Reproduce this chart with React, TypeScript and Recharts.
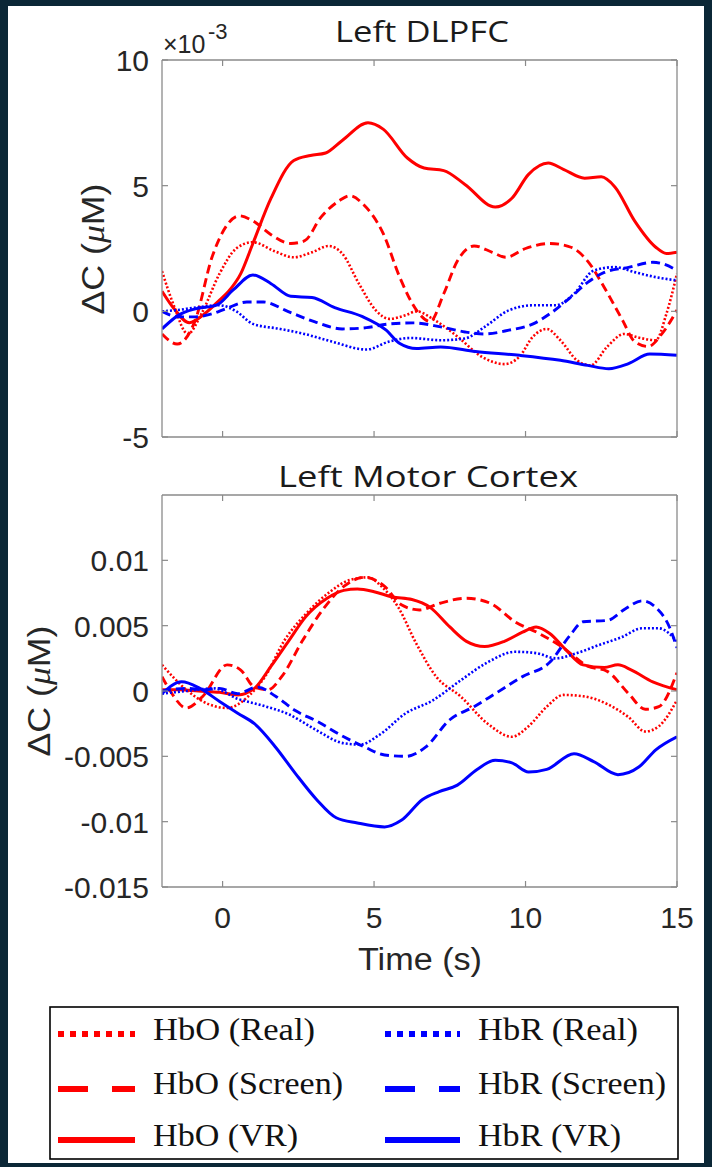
import React from 'react';
import { LineChart, Line, XAxis, YAxis } from 'recharts';

type Pt = [number, number];

// ---------- axes ----------
const X_DOMAIN: [number, number] = [-2, 15];
const X_TICKS = [0, 5, 10, 15];
const DLPFC_Y_DOMAIN: [number, number] = [-5, 10];
const DLPFC_Y_TICKS = [-5, 0, 5, 10];
const MOTOR_Y_DOMAIN: [number, number] = [-0.015, 0.015];
const MOTOR_Y_TICKS = [-0.015, -0.01, -0.005, 0, 0.005, 0.01];

const TITLE_DLPFC = 'Left DLPFC';
const TITLE_MOTOR = 'Left Motor Cortex';
const X_LABEL = 'Time (s)';
const SERIES_NAMES = ['HbO (Real)', 'HbO (Screen)', 'HbO (VR)', 'HbR (Real)', 'HbR (Screen)', 'HbR (VR)'];

// ---------- Left DLPFC (x10^-3 µM) ----------
const dlpfcHbOReal: Pt[] = [[-2,1.6],[-1.6,0.2],[-1.15,-0.9],[-0.7,-0.1],[-0.1,1.5],[0.45,2.5],[1.0,2.75],[1.7,2.4],[2.35,2.15],[2.95,2.35],[3.5,2.6],[3.95,2.3],[4.5,1.1],[5.05,0.05],[5.5,-0.3],[6.05,-0.15],[6.4,0.0],[7.0,-0.35],[7.75,-1.0],[8.55,-1.8],[9.3,-2.1],[9.8,-1.8],[10.25,-1.0],[10.7,-0.7],[11.15,-1.15],[11.7,-1.95],[12.15,-2.15],[12.7,-1.4],[13.25,-0.9],[13.75,-1.05],[14.3,-1.15],[14.65,-0.1],[15,1.5]];
const dlpfcHbOScreen: Pt[] = [[-2,-0.9],[-1.5,-1.3],[-0.9,-0.35],[-0.35,2.15],[0.1,3.35],[0.55,3.8],[1.0,3.6],[1.6,3.05],[2.25,2.7],[2.7,2.8],[3.25,3.75],[3.85,4.4],[4.2,4.6],[4.65,4.25],[5.3,3.1],[5.85,1.35],[6.4,0.05],[6.85,-0.4],[7.3,0.7],[7.75,2.0],[8.3,2.6],[8.9,2.35],[9.35,2.15],[10.0,2.5],[10.8,2.7],[11.5,2.55],[12.05,2.0],[12.6,0.95],[13.2,-0.35],[13.6,-1.2],[14.05,-1.4],[14.5,-0.9],[15,0.05]];
const dlpfcHbOVR: Pt[] = [[-2,0.8],[-1.6,0.1],[-1.1,-0.45],[-0.6,-0.1],[-0.1,0.45],[0.2,0.8],[0.6,1.5],[1.0,2.7],[1.6,4.5],[2.35,6.0],[2.9,6.2],[3.4,6.3],[3.95,6.8],[4.8,7.5],[5.3,7.25],[6.1,6.1],[6.65,5.7],[7.3,5.6],[8.0,5.05],[9.0,4.15],[9.55,4.5],[10.1,5.45],[10.75,5.9],[11.25,5.65],[11.95,5.3],[12.5,5.35],[12.95,4.95],[13.6,3.6],[14.3,2.55],[14.65,2.3],[15,2.35]];
const dlpfcHbRReal: Pt[] = [[-2,0.0],[-1.5,0.05],[-0.9,0.15],[-0.1,0.24],[0.45,0.0],[1.0,-0.5],[1.9,-0.7],[2.7,-0.9],[3.6,-1.2],[4.75,-1.52],[5.5,-1.2],[6.2,-1.06],[7.2,-1.15],[8.0,-1.08],[8.65,-0.62],[9.45,0.04],[10.25,0.24],[11.0,0.24],[11.6,0.7],[12.25,1.62],[12.95,1.76],[13.6,1.56],[14.3,1.36],[15,1.23]];
const dlpfcHbRScreen: Pt[] = [[-2,0.0],[-1.45,-0.22],[-0.9,-0.22],[-0.35,-0.1],[0.1,0.1],[0.8,0.37],[1.35,0.37],[2.15,0.0],[3.05,-0.42],[3.95,-0.7],[4.75,-0.65],[5.5,-0.5],[6.3,-0.46],[7.2,-0.62],[8.0,-0.82],[8.65,-0.9],[9.45,-0.75],[10.25,-0.5],[10.8,-0.1],[11.5,0.57],[12.05,1.15],[12.6,1.55],[13.4,1.75],[14.2,1.95],[14.5,1.9],[15,1.63]];
const dlpfcHbRVR: Pt[] = [[-2,-0.7],[-1.45,-0.15],[-0.9,0.1],[-0.2,0.25],[0.35,0.85],[1.0,1.45],[1.6,1.1],[2.25,0.6],[2.95,0.55],[3.7,0.15],[4.6,-0.2],[5.4,-0.75],[5.85,-1.28],[6.4,-1.48],[7.2,-1.42],[8.35,-1.6],[9.8,-1.75],[11.15,-1.95],[12.05,-2.15],[12.75,-2.28],[13.4,-2.08],[14.1,-1.7],[15,-1.75]];

// ---------- Left Motor Cortex (µM) ----------
const motorHbOReal: Pt[] = [[-2,0.002],[-1.2,0.0001],[-0.65,-0.0008],[0.15,-0.0013],[0.85,-0.0004],[1.4,0.0011],[2.05,0.0039],[2.75,0.0059],[3.55,0.0076],[4.2,0.0085],[4.8,0.0087],[5.25,0.008],[5.8,0.0064],[6.4,0.0036],[7.05,0.0011],[7.85,-0.0004],[8.75,-0.0025],[9.55,-0.0035],[10.1,-0.0027],[10.7,-0.0012],[11.25,-0.0003],[11.9,-0.0004],[12.7,-0.001],[13.4,-0.002],[13.95,-0.0031],[14.4,-0.0027],[15,-0.0007]];
const motorHbOScreen: Pt[] = [[-2,0.0011],[-1.7,-0.0001],[-1.2,-0.0013],[-0.65,-0.0004],[0.15,0.002],[0.6,0.0016],[1.05,0.0003],[1.5,0.0001],[1.95,0.0011],[2.65,0.0039],[3.3,0.0062],[4.0,0.008],[4.7,0.0087],[5.35,0.008],[5.9,0.0066],[6.5,0.0062],[7.15,0.0067],[8.05,0.0071],[8.85,0.0067],[9.65,0.0053],[10.45,0.0044],[11.25,0.0033],[12.05,0.0019],[12.7,0.0015],[13.4,-0.0002],[13.95,-0.0014],[14.4,-0.0012],[15,0.0014]];
const motorHbOVR: Pt[] = [[-2,0.0001],[-1.4,0.0001],[-0.8,0.0],[-0.1,-0.0001],[0.5,-0.0003],[1.05,0.0002],[1.6,0.0019],[2.2,0.0039],[2.75,0.0057],[3.45,0.0071],[4.0,0.0077],[4.45,0.0078],[5.0,0.0076],[5.6,0.0072],[6.25,0.007],[6.85,0.0064],[7.5,0.0049],[8.05,0.0038],[8.65,0.0034],[9.3,0.0038],[9.9,0.0045],[10.35,0.0049],[10.8,0.0044],[11.35,0.0031],[11.9,0.002],[12.6,0.0018],[13.05,0.002],[13.5,0.0016],[14.2,0.0007],[15,0.0001]];
const motorHbRReal: Pt[] = [[-2,-0.0002],[-1.2,0.0],[-0.3,0.0002],[0.5,-0.0006],[1.3,-0.0011],[2.2,-0.0018],[3.1,-0.003],[4.0,-0.004],[4.55,-0.0041],[5.15,-0.0034],[6.05,-0.0017],[6.95,-0.0007],[7.85,0.0008],[8.75,0.0022],[9.65,0.003],[10.35,0.0029],[11.0,0.0025],[11.7,0.0029],[12.4,0.0035],[13.15,0.0041],[13.85,0.0048],[14.4,0.0048],[15,0.0038]];
const motorHbRScreen: Pt[] = [[-2,0.0],[-1.2,0.0002],[-0.6,0.0001],[-0.1,0.0002],[0.5,-0.0002],[1.15,0.0003],[1.75,-0.0004],[2.4,-0.0015],[3.1,-0.0023],[4.0,-0.0035],[4.7,-0.0043],[5.35,-0.0049],[6.05,-0.005],[6.7,-0.0043],[7.5,-0.0022],[8.3,-0.0012],[9.0,-0.0002],[9.9,0.0011],[10.8,0.0022],[11.45,0.0042],[11.9,0.0053],[12.7,0.0054],[13.3,0.0063],[13.85,0.0069],[14.3,0.0064],[14.75,0.0049],[15,0.0033]];
const motorHbRVR: Pt[] = [[-2,-0.0002],[-1.35,0.0007],[-0.75,0.0002],[-0.1,-0.0008],[0.5,-0.0017],[1.05,-0.0025],[1.75,-0.0043],[2.4,-0.0063],[3.1,-0.0083],[3.75,-0.0097],[4.45,-0.0101],[5.35,-0.0104],[5.9,-0.0099],[6.6,-0.0083],[7.15,-0.0077],[7.75,-0.0072],[8.4,-0.006],[9.0,-0.0053],[9.55,-0.0055],[10.1,-0.0062],[10.7,-0.006],[11.6,-0.0048],[12.25,-0.0054],[13.05,-0.0064],[13.75,-0.0058],[14.3,-0.0045],[15,-0.0035]];

// ---------- styles ----------
const RED = '#ff0000';
const BLUE = '#0000ff';
const BOX = '#8a8a8a';
const TXT = '#262626';
const STYLE_REAL = { dash: '2 2', width: 2.6, legendDash: '6 6', legendWidth: 6 };
const STYLE_SCREEN = { dash: '9 5', width: 2.9, legendDash: '30 24', legendWidth: 6 };
const STYLE_VR = { dash: undefined as string | undefined, width: 3, legendDash: undefined as string | undefined, legendWidth: 6 };
const SERIES_STYLES = [
  { color: RED, ...STYLE_REAL },
  { color: RED, ...STYLE_SCREEN },
  { color: RED, ...STYLE_VR },
  { color: BLUE, ...STYLE_REAL },
  { color: BLUE, ...STYLE_SCREEN },
  { color: BLUE, ...STYLE_VR },
];

const DLPFC_SERIES = [dlpfcHbOReal, dlpfcHbOScreen, dlpfcHbOVR, dlpfcHbRReal, dlpfcHbRScreen, dlpfcHbRVR];
const MOTOR_SERIES = [motorHbOReal, motorHbOScreen, motorHbOVR, motorHbRReal, motorHbRScreen, motorHbRVR];

const W = 712;
const PLOT_LEFT = 162;
const PLOT_RIGHT = 677;
const TICK_FONT = 'Liberation Sans, Arial, sans-serif';
const TICK_SIZE = 30;
const TICK_LEN = 6;

function Panel(props: {
  top: number; height: number; plotTop: number; plotBottom: number;
  yDomain: [number, number]; yTicks: number[]; series: Pt[][]; showXLabels: boolean;
}) {
  const { top, height, plotTop, plotBottom, yDomain, yTicks, series, showXLabels } = props;
  const yAxisW = 40, xAxisH = 20, topAxisH = 10, rightAxisW = 10;
  const margin = {
    top: plotTop - top - topAxisH,
    left: PLOT_LEFT - yAxisW,
    right: W - PLOT_RIGHT - rightAxisW,
    bottom: top + height - plotBottom - xAxisH,
  };
  const axisLine = { stroke: BOX, strokeWidth: 1.3 };
  const bottomTick = (p: any) => (
    <g>
      <line x1={p.x} x2={p.x} y1={p.y} y2={p.y - TICK_LEN} stroke={BOX} strokeWidth={1.2} />
      {showXLabels && (
        <text x={p.x} y={p.y + 41} textAnchor="middle" fontFamily={TICK_FONT} fontSize={TICK_SIZE} fill={TXT}>
          {String(p.payload.value)}
        </text>
      )}
    </g>
  );
  const topTick = (p: any) => (
    <line x1={p.x} x2={p.x} y1={p.y} y2={p.y + TICK_LEN} stroke={BOX} strokeWidth={1.2} />
  );
  const leftTick = (p: any) => (
    <g>
      <line x1={p.x} x2={p.x + TICK_LEN} y1={p.y} y2={p.y} stroke={BOX} strokeWidth={1.2} />
      <text x={p.x - 13} y={p.y + 11} textAnchor="end" fontFamily={TICK_FONT} fontSize={TICK_SIZE} fill={TXT}>
        {String(p.payload.value)}
      </text>
    </g>
  );
  const rightTick = (p: any) => (
    <line x1={p.x} x2={p.x - TICK_LEN} y1={p.y} y2={p.y} stroke={BOX} strokeWidth={1.2} />
  );
  return (
    <div style={{ position: 'absolute', left: 0, top }}>
      <LineChart width={W} height={height} margin={margin}>
        <XAxis xAxisId="b" type="number" dataKey="t" domain={X_DOMAIN} ticks={X_TICKS} interval={0}
          height={xAxisH} allowDataOverflow tickLine={false} tickSize={0} tickMargin={0}
          axisLine={axisLine} tick={bottomTick} />
        <XAxis xAxisId="t" orientation="top" type="number" dataKey="t" domain={X_DOMAIN} ticks={X_TICKS} interval={0}
          height={topAxisH} allowDataOverflow tickLine={false} tickSize={0} tickMargin={0}
          axisLine={axisLine} tick={topTick} />
        <YAxis yAxisId="l" type="number" domain={yDomain} ticks={yTicks} interval={0}
          width={yAxisW} allowDataOverflow tickLine={false} tickSize={0} tickMargin={0}
          axisLine={axisLine} tick={leftTick} />
        <YAxis yAxisId="r" orientation="right" type="number" domain={yDomain} ticks={yTicks} interval={0}
          width={rightAxisW} allowDataOverflow tickLine={false} tickSize={0} tickMargin={0}
          axisLine={axisLine} tick={rightTick} />
        {series.map((pts, i) => (
          <Line key={i} xAxisId="b" yAxisId="l" data={pts.map(([t, v]) => ({ t, v }))} dataKey="v"
            type="monotone" stroke={SERIES_STYLES[i].color} strokeWidth={SERIES_STYLES[i].width}
            strokeDasharray={SERIES_STYLES[i].dash} dot={false} activeDot={false}
            isAnimationActive={false} name={SERIES_NAMES[i]} />
        ))}
      </LineChart>
    </div>
  );
}

function YLabel({ cx, cy }: { cx: number; cy: number }) {
  return (
    <text transform={`translate(${cx}, ${cy}) rotate(-90)`} textAnchor="middle" fontFamily={TICK_FONT}
      fontSize={31} fill={TXT} textLength={131} lengthAdjust="spacingAndGlyphs">
      ΔC (<tspan fontStyle="italic" fontFamily="Liberation Serif, serif">μ</tspan>M)
    </text>
  );
}

const LEGEND_COLS = [
  { lineX1: 58, lineX2: 135, textX: 153 },
  { lineX1: 385, lineX2: 460, textX: 478 },
];
const LEGEND_ROWS = [
  { base: 1040, lineY: 1034 },
  { base: 1094, lineY: 1089 },
  { base: 1146, lineY: 1140 },
];
const LEGEND_WIDTHS = [162, 190, 145, 160, 188, 143];

export default function App() {
  return (
    <div style={{ position: 'absolute', left: 0, top: 0, width: 712, height: 1167, background: '#0b2736', overflow: 'hidden' }}>
      <div style={{ position: 'absolute', left: 8, top: 6, width: 696, height: 1157, background: '#ffffff' }} />
      <Panel top={0} height={470} plotTop={60} plotBottom={437} yDomain={DLPFC_Y_DOMAIN} yTicks={DLPFC_Y_TICKS}
        series={DLPFC_SERIES} showXLabels={false} />
      <Panel top={470} height={520} plotTop={495} plotBottom={887} yDomain={MOTOR_Y_DOMAIN} yTicks={MOTOR_Y_TICKS}
        series={MOTOR_SERIES} showXLabels={true} />
      <svg width={712} height={1167} style={{ position: 'absolute', left: 0, top: 0, pointerEvents: 'none' }}>
        <text x={422} y={42} textAnchor="middle" fontFamily="Open Sans, sans-serif" fontSize={30} fill="#1a1a1a"
          textLength={174} lengthAdjust="spacingAndGlyphs">{TITLE_DLPFC}</text>
        <text x={428} y={487} textAnchor="middle" fontFamily="Open Sans, sans-serif" fontSize={30} fill="#1a1a1a"
          textLength={300} lengthAdjust="spacingAndGlyphs">{TITLE_MOTOR}</text>
        <text x={163} y={53} fontFamily={TICK_FONT} fontSize={25} fill={TXT}>×10</text>
        <text x={208} y={39} fontFamily={TICK_FONT} fontSize={22} fill={TXT}>-3</text>
        <YLabel cx={104} cy={249} />
        <YLabel cx={50} cy={691} />
        <text x={420} y={970} textAnchor="middle" fontFamily={TICK_FONT} fontSize={31} fill={TXT}
          textLength={124} lengthAdjust="spacingAndGlyphs">{X_LABEL}</text>
        <rect x={50} y={1007} width={628} height={152} fill="#ffffff" stroke="#000" strokeWidth={1.6} />
        {SERIES_NAMES.map((name, i) => {
          const col = LEGEND_COLS[i < 3 ? 0 : 1];
          const row = LEGEND_ROWS[i % 3];
          const st = SERIES_STYLES[i];
          return (
            <g key={name}>
              <line x1={col.lineX1} x2={col.lineX2} y1={row.lineY} y2={row.lineY} stroke={st.color}
                strokeWidth={st.legendWidth} strokeDasharray={st.legendDash} />
              <text x={col.textX} y={row.base} fontFamily="Liberation Serif, 'Times New Roman', serif" fontSize={32}
                fill="#111" textLength={LEGEND_WIDTHS[i]} lengthAdjust="spacingAndGlyphs">{name}</text>
            </g>
          );
        })}
      </svg>
    </div>
  );
}
